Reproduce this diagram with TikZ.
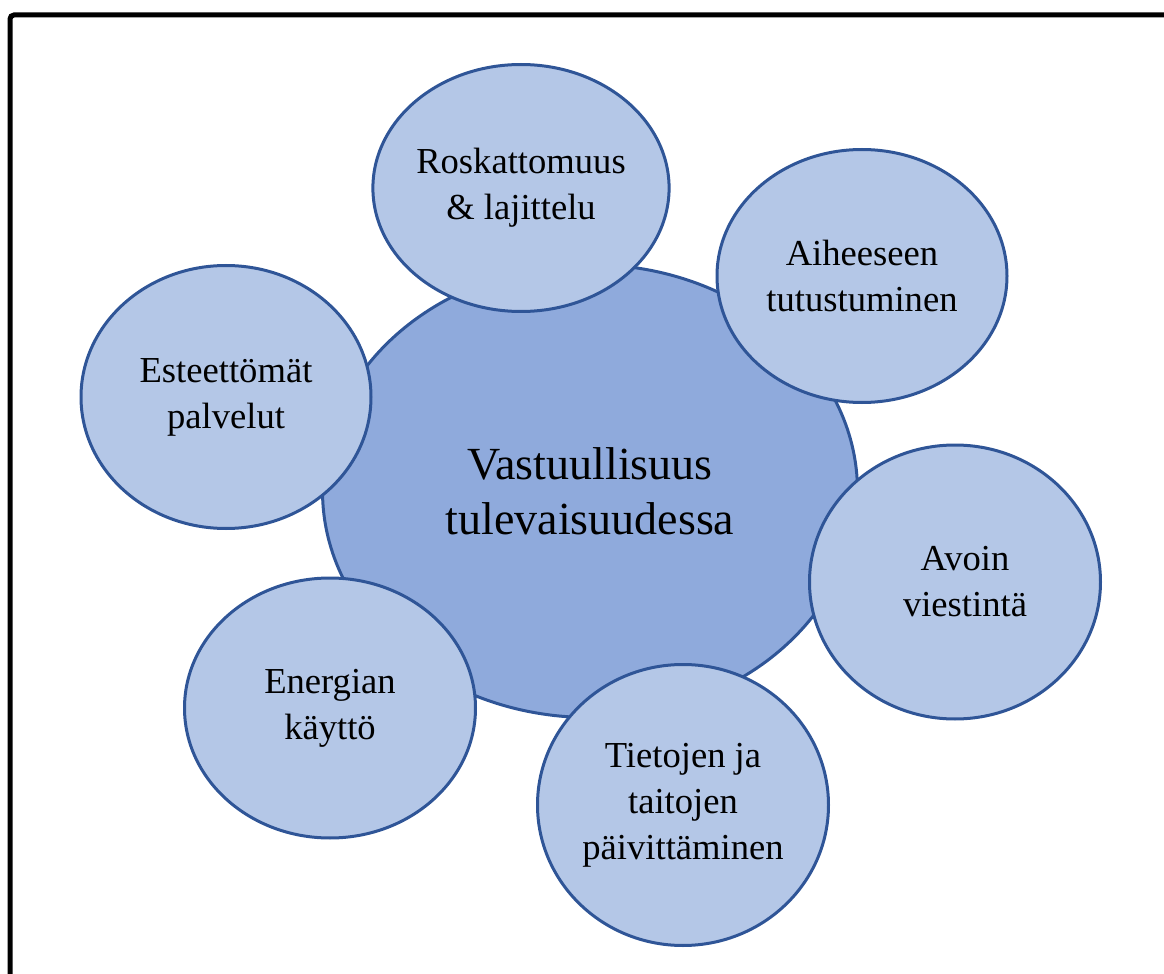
\documentclass[tikz,border=0pt]{standalone}
\usepackage{fontspec}
\setmainfont{Liberation Serif}
\usepackage{xcolor}
\usetikzlibrary{shapes.geometric}
\definecolor{outline}{HTML}{2F5597}
\definecolor{hubfill}{HTML}{8FAADC}
\definecolor{leaffill}{HTML}{B4C7E7}

\begin{document}
\begin{tikzpicture}[x=0.5pt,y=-0.5pt]
\tikzstyle{hub}=[ellipse, draw=outline, line width=1.5pt, fill=hubfill, inner sep=0pt, align=center, font=\fontsize{23}{27.5}\selectfont]
\tikzstyle{leaf}=[ellipse, draw=outline, line width=1.5pt, fill=leaffill, inner sep=0pt, align=center, font=\fontsize{18.3}{23}\selectfont]
\tikzstyle{frame}=[draw=black, line width=2.5pt, rounded corners=2pt]
  \useasboundingbox (0,0) rectangle (1164,974);
  \draw[frame] (10,15) rectangle (1185,995);
  \node[hub, minimum width=267.5pt, minimum height=226.5pt] (hub) at (590,491) {Vastuullisuus\\tulevaisuudessa};
  \node[leaf, minimum width=146.5pt, minimum height=123.5pt] (waste) at (521,188) {Roskattomuus\\\& lajittelu};
  \node[leaf, minimum width=145pt, minimum height=126.5pt] (study) at (862,276) {Aiheeseen\\tutustuminen};
  \node[leaf, minimum width=145pt, minimum height=131.5pt] (access) at (226,397) {Esteettömät\\palvelut};
  \node[leaf, minimum width=145.5pt, minimum height=137pt] (open) at (955,582) {\hspace*{10pt}Avoin\\\hspace*{10pt}viestintä};
  \node[leaf, minimum width=145.5pt, minimum height=130pt] (energy) at (330,708) {Energian\\käyttö};
  \node[leaf, minimum width=145.5pt, minimum height=140.5pt] (skills) at (683,805) {Tietojen ja\\taitojen\\päivittäminen};
\end{tikzpicture}
\end{document}
